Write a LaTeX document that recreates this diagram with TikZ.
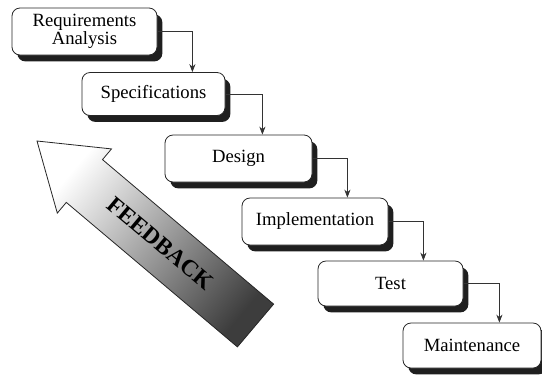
\documentclass[tikz,border=0pt]{standalone}
\usepackage{fontspec}
\setmainfont{Liberation Serif}
\usetikzlibrary{arrows.meta,shadows}
\begin{document}
\begin{tikzpicture}[x=0.75pt,y=-0.75pt,
  stage/.style={draw=black!85, line width=0.6pt, fill=white,
    rounded corners=6pt, align=center, inner sep=0pt,
    font=\fontsize{14}{12.5}\selectfont,
    drop shadow={shadow xshift=4pt, shadow yshift=-4.8pt, fill=black!88, opacity=1}},
  boxsize/.style 2 args={minimum width=#1*0.75pt, minimum height=#2*0.75pt},
  flow/.style={draw=black!80, line width=0.6pt, -{Stealth[length=6pt,width=4.6pt]}},
  fbarrow/.style={draw=black!85, line width=0.6pt, left color=white,
    middle color=black!42, right color=black!76, shading angle=50},
  fblabel/.style={font=\fontsize{17.6}{18}\selectfont\bfseries, rotate=-40},
]
\useasboundingbox (0,0) rectangle (542,376);
\clip (0,0) rectangle (542,376);

% feedback arrow pointing back up the cascade
\shadedraw[fbarrow] (37,141) -- (111.5,148.9) -- (102.5,159.6) -- (273.6,304.1)
  -- (237.4,346.9) -- (66.3,202.4) -- (57.3,213.1) -- cycle;
\node[fblabel] (fb) at (160.5,243.5) {FEEDBACK};

% the cascade of stages
\node[stage, boxsize={145}{47}] (req)  at (84.5,31.5)  {Requirements\\Analysis};
\node[stage, boxsize={143}{43}] (spec) at (153.5,94)   {Specifications};
\node[stage, boxsize={147}{47}] (des)  at (238.5,158.5){Design};
\node[stage, boxsize={146}{47}] (impl) at (315,221.5)  {Implementation};
\node[stage, boxsize={145}{45}] (test) at (390.5,283.5){Test};
\node[stage, boxsize={138}{45}] (mnt)  at (472,345.5)  {Maintenance};

% step-down connectors
\draw[flow] (req.east)  -- ++(35,0) coordinate (k1) -- (k1 |- spec.north);
\draw[flow] (spec.east) -- ++(37,0) coordinate (k2) -- (k2 |- des.north);
\draw[flow] (des.east)  -- ++(35,0) coordinate (k3) -- (k3 |- impl.north);
\draw[flow] (impl.east) -- ++(35,0) coordinate (k4) -- (k4 |- test.north);
\draw[flow] (test.east) -- ++(36,0) coordinate (k5) -- (k5 |- mnt.north);
\end{tikzpicture}
\end{document}
